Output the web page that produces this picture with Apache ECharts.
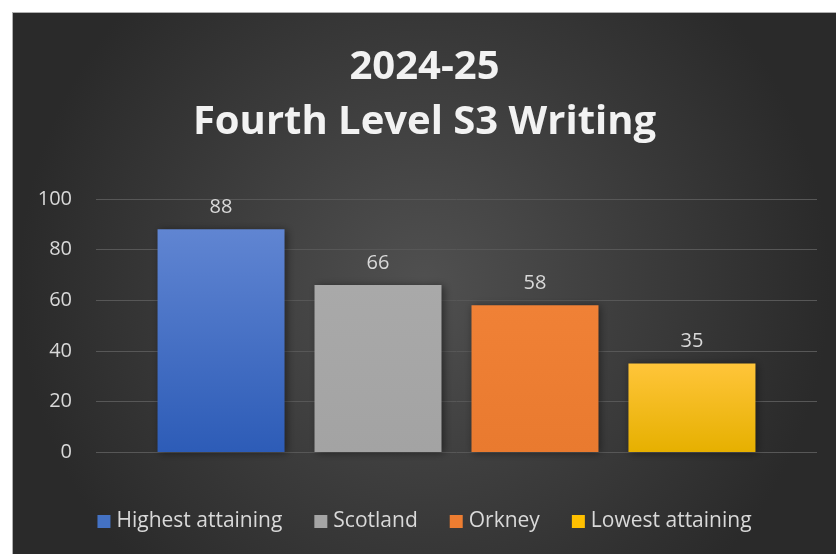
<!DOCTYPE html>
<html>
<head>
<meta charset="utf-8">
<script src="https://cdn.jsdelivr.net/npm/echarts@6/dist/echarts.min.js"></script>
<style>
  html, body { margin: 0; padding: 0; background: #fff; }
  #chart {
    position: absolute; left: 12px; top: 12px;
    width: 824px; height: 542px;
    box-sizing: border-box;
    border-top: 1px solid #b0b0b0; border-left: 1px solid #b0b0b0;
  }
</style>
</head>
<body>
<div id="chart"></div>
<script>
const seriesNames = ['Highest attaining', 'Scotland', 'Orkney', 'Lowest attaining'];
const values = [88, 66, 58, 35];
const yTicks = [0, 20, 40, 60, 80, 100];

// top / bottom colours of each bar gradient
const barColors = [
  ['#6085d2', '#2d5cb7'],
  ['#a9a9a9', '#a3a3a3'],
  ['#f08136', '#e97a2f'],
  ['#ffc53a', '#e6b000']
];
const legendColors = ['#4472c4', '#a5a5a5', '#ed7d31', '#ffc000'];

const chart = echarts.init(document.getElementById('chart'));

const series = seriesNames.map((name, i) => ({
  name: name,
  type: 'bar',
  data: [values[i]],
  barWidth: 127,
  barGap: '23.6%',
  itemStyle: {
    color: new echarts.graphic.LinearGradient(0, 0, 0, 1, [
      { offset: 0, color: barColors[i][0] },
      { offset: 1, color: barColors[i][1] }
    ]),
    shadowColor: 'rgba(0,0,0,0.45)',
    shadowBlur: 8,
    shadowOffsetX: 2,
    shadowOffsetY: 1
  },
  label: {
    show: true,
    position: 'top',
    distance: 12,
    color: '#d9d9d9',
    fontFamily: 'Open Sans',
    fontSize: 20
  }
}));

const option = {
  backgroundColor: new echarts.graphic.RadialGradient(0.5, 0.5, 0.75, [
    { offset: 0, color: '#505050' },
    { offset: 1, color: '#2a2a2a' }
  ]),
  color: legendColors,
  title: {
    text: '2024-25\nFourth Level S3 Writing',
    left: 'center',
    top: 22,
    textStyle: {
      color: '#f2f2f2',
      fontFamily: 'Open Sans',
      fontWeight: 'bold',
      fontSize: 40,
      lineHeight: 55
    }
  },
  legend: {
    bottom: 17,
    left: 'center',
    icon: 'rect',
    itemWidth: 13,
    itemHeight: 13,
    itemGap: 32,
    textStyle: {
      color: '#d9d9d9',
      fontFamily: 'Open Sans',
      fontSize: 21,
      padding: [0, 0, 0, 1]
    },
    data: seriesNames.map((n, i) => ({ name: n, itemStyle: { color: legendColors[i] } }))
  },
  grid: {
    left: 83,
    right: 19,
    top: 186,
    bottom: 102
  },
  xAxis: {
    type: 'category',
    data: [''],
    axisLine: { show: false },
    axisTick: { show: false },
    axisLabel: { show: false }
  },
  yAxis: {
    type: 'value',
    min: yTicks[0],
    max: yTicks[yTicks.length - 1],
    interval: 20,
    axisLine: { show: false },
    axisTick: { show: false },
    axisLabel: {
      color: '#d9d9d9',
      fontFamily: 'Open Sans',
      fontSize: 20,
      margin: 24
    },
    splitLine: { lineStyle: { color: '#575757', width: 1 } }
  },
  series: series
};

chart.setOption(option);
</script>
</body>
</html>
